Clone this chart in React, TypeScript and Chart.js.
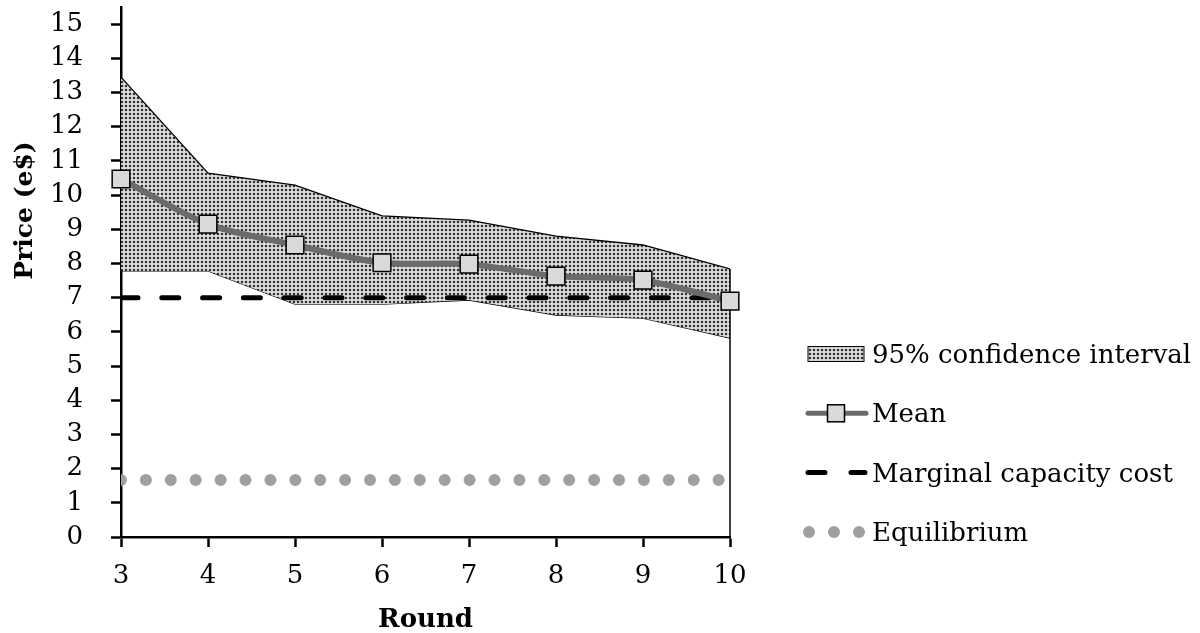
import React, { useEffect, useRef } from "react";
import { Chart, registerables } from "chart.js";

Chart.register(...registerables);

// ---- data ----
const rounds = [3, 4, 5, 6, 7, 8, 9, 10];
const meanPrice = [10.47, 9.15, 8.54, 8.02, 7.98, 7.63, 7.51, 6.9];
const ciUpper = [13.45, 10.64, 10.29, 9.39, 9.27, 8.8, 8.54, 7.84];
const ciLower = [7.78, 7.78, 6.81, 6.81, 6.93, 6.49, 6.4, 5.82];
const marginalCost = [7, 7, 7, 7, 7, 7, 7, 7];
const equilibrium = [1.67, 1.67, 1.67, 1.67, 1.67, 1.67, 1.67, 1.67];
const yTickValues = [0, 1, 2, 3, 4, 5, 6, 7, 8, 9, 10, 11, 12, 13, 14, 15];
const legendLabels = ["95% confidence interval", "Mean", "Marginal capacity cost", "Equilibrium"];
const xTitle = "Round";
const yTitle = "Price (e$)";

const FONT = "'DejaVu Serif', serif";

function pts(values: number[]) {
  return rounds.map((r, i) => ({ x: r, y: values[i] }));
}

function makePattern(): CanvasPattern | string {
  const c = document.createElement("canvas");
  c.width = 4;
  c.height = 4;
  const g = c.getContext("2d");
  if (!g) return "#ccc";
  g.fillStyle = "#f6f6f6";
  g.fillRect(0, 0, 4, 4);
  g.fillStyle = "#9a9a9a";
  g.fillRect(0.5, 0.5, 3, 3);
  g.fillStyle = "#333333";
  g.fillRect(1, 1, 2, 2);
  const p = g.createPattern(c, "repeat");
  return p || "#ccc";
}

export default function App() {
  const ref = useRef<HTMLCanvasElement | null>(null);

  useEffect(() => {
    document.body.style.margin = "0";
    const canvas = ref.current;
    if (!canvas) return;
    const pattern = makePattern();

    const upperIndex = 3;

    const extras = {
      id: "extras",
      afterDatasetDraw(chart: any, args: any) {
        if (args.index !== upperIndex) return;
        const { ctx, scales } = chart;
        const last = rounds.length - 1;
        const x = scales.x.getPixelForValue(rounds[last]);
        ctx.save();
        ctx.strokeStyle = "#000";
        ctx.lineWidth = 1.5;
        ctx.beginPath();
        ctx.moveTo(x, scales.y.getPixelForValue(ciUpper[last]));
        ctx.lineTo(x, scales.y.getPixelForValue(0));
        ctx.stroke();
        ctx.restore();
      },
      afterDraw(chart: any) {
        const { ctx, chartArea: a } = chart;
        // y-axis title
        ctx.save();
        ctx.translate(a.left - 96, a.top + a.height * 0.384);
        ctx.rotate(-Math.PI / 2);
        ctx.font = `bold 25px ${FONT}`;
        ctx.fillStyle = "#000";
        ctx.textAlign = "center";
        ctx.textBaseline = "middle";
        ctx.fillText(yTitle, 0, 0);
        ctx.restore();

        // legend
        const sx = a.right + 76;
        const sw = 60;
        const tx = a.right + 142;
        const y0 = a.bottom - 183;
        const gap = 59.3;
        ctx.save();
        ctx.font = `26px ${FONT}`;
        ctx.fillStyle = "#000";
        ctx.textAlign = "left";
        ctx.textBaseline = "alphabetic";
        legendLabels.forEach((lab, i) => {
          const y = y0 + i * gap;
          ctx.save();
          if (i === 0) {
            ctx.fillStyle = pattern as any;
            ctx.fillRect(sx + 2, y - 7.5, sw - 4, 15);
            ctx.strokeStyle = "#000";
            ctx.lineWidth = 1;
            ctx.strokeRect(sx + 2, y - 7.5, sw - 4, 15);
          } else if (i === 1) {
            ctx.strokeStyle = "#6b6b6b";
            ctx.lineWidth = 5;
            ctx.lineCap = "round";
            ctx.beginPath();
            ctx.moveTo(sx + 2, y);
            ctx.lineTo(sx + sw, y);
            ctx.stroke();
            ctx.fillStyle = "#d9d9d9";
            ctx.fillRect(sx + sw / 2 - 8.5, y - 8.5, 17, 17);
            ctx.strokeStyle = "#000";
            ctx.lineWidth = 1.5;
            ctx.strokeRect(sx + sw / 2 - 8.5, y - 8.5, 17, 17);
          } else if (i === 2) {
            ctx.strokeStyle = "#000";
            ctx.lineWidth = 5;
            ctx.lineCap = "round";
            ctx.beginPath();
            ctx.moveTo(sx + 2, y);
            ctx.lineTo(sx + 19, y);
            ctx.moveTo(sx + 45, y);
            ctx.lineTo(sx + sw - 1, y);
            ctx.stroke();
          } else {
            ctx.fillStyle = "#a0a0a0";
            [3, 28, 53].forEach((dx) => {
              ctx.beginPath();
              ctx.arc(sx + dx, y, 6, 0, Math.PI * 2);
              ctx.fill();
            });
          }
          ctx.restore();
          ctx.fillText(lab, tx, y + 9);
        });
        ctx.restore();
      },
    };

    const chart = new Chart(canvas, {
      type: "line",
      data: {
        datasets: [
          {
            label: legendLabels[1],
            data: pts(meanPrice),
            borderColor: "#6b6b6b",
            borderWidth: 6,
            tension: 0.3,
            pointStyle: "rect",
            pointRadius: 12.5,
            pointBackgroundColor: "#d9d9d9",
            pointBorderColor: "#000",
            pointBorderWidth: 1.5,
            fill: false,
            clip: false as any,
            order: 0,
          },
          {
            label: legendLabels[2],
            data: pts(marginalCost),
            borderColor: "#000",
            borderWidth: 5,
            borderDash: [17, 23.8],
            borderCapStyle: "round",
            pointRadius: 0,
            fill: false,
            order: 1,
          },
          {
            label: legendLabels[3],
            data: pts(equilibrium),
            borderColor: "#a0a0a0",
            borderWidth: 12,
            borderDash: [0, 24.9],
            borderCapStyle: "round",
            pointRadius: 0,
            fill: false,
            order: 2,
          },
          {
            label: legendLabels[0],
            data: pts(ciUpper),
            borderColor: "#000",
            borderWidth: 1.3,
            backgroundColor: pattern as any,
            pointRadius: 0,
            tension: 0,
            fill: 4,
            order: 3,
          },
          {
            label: "lower",
            data: pts(ciLower),
            borderColor: "#000",
            borderWidth: 1.3,
            pointRadius: 0,
            tension: 0,
            fill: false,
            order: 4,
          },
        ],
      },
      options: {
        responsive: false,
        animation: false,
        events: [],
        layout: { autoPadding: false, padding: { left: 0, top: 7, right: 470, bottom: 0 } },
        plugins: {
          legend: { display: false },
          tooltip: { enabled: false },
          title: { display: false },
        },
        scales: {
          x: {
            type: "linear",
            min: 3,
            max: 10,
            border: { display: true, color: "#000", width: 2.5 },
            grid: {
              display: true,
              drawOnChartArea: false,
              drawTicks: true,
              tickLength: 10,
              tickColor: "#000",
              tickWidth: 2.5,
            },
            ticks: {
              stepSize: 1,
              color: "#000",
              font: { family: FONT, size: 26 },
              padding: 14,
              maxRotation: 0,
            },
            title: {
              display: true,
              text: xTitle,
              color: "#000",
              font: { family: FONT, size: 26, weight: "bold" },
              padding: { top: 0, bottom: -3 },
            },
            afterFit: (s: any) => {
              s.height = 96;
              s.paddingLeft = 0;
              s.paddingRight = 0;
            },
          },
          y: {
            type: "linear",
            min: 0,
            max: 15.5,
            border: { display: true, color: "#000", width: 2.5 },
            grid: {
              display: true,
              drawOnChartArea: false,
              drawTicks: true,
              tickLength: 10,
              tickColor: "#000",
              tickWidth: 2.5,
            },
            ticks: {
              stepSize: 1,
              color: "#000",
              font: { family: FONT, size: 26 },
              padding: 28,
            },
            afterBuildTicks: (axis: any) => {
              axis.ticks = yTickValues.map((v) => ({ value: v }));
            },
            afterFit: (s: any) => {
              s.width = 121;
              s.paddingTop = 0;
              s.paddingBottom = 0;
            },
          },
        },
      },
      plugins: [extras],
    } as any);

    return () => chart.destroy();
  }, []);

  return (
    <div style={{ width: 1200, height: 633, position: "relative" }}>
      <canvas ref={ref} width={1200} height={633} style={{ display: "block", width: 1200, height: 633 }} />
    </div>
  );
}
